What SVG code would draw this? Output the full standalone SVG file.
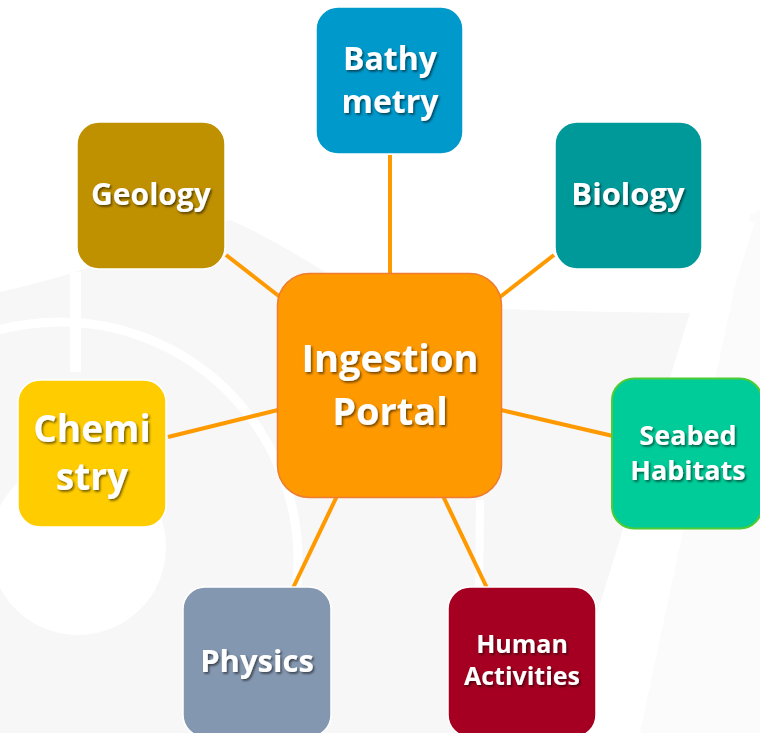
<svg xmlns="http://www.w3.org/2000/svg" width="760" height="733" viewBox="0 0 760 733">
<defs>
<filter id="ts" x="-10%" y="-30%" width="130%" height="170%">
<feDropShadow dx="1.5" dy="1.8" stdDeviation="0.9" flood-color="#000" flood-opacity="0.55"/>
</filter>
<style>
.bg{fill:#f7f7f7}
.wm{fill:none;stroke:#ffffff}
.conn{stroke:#ff9900;stroke-width:4;fill:none}
.box{stroke:#ffffff;stroke-width:1.5}
.lbl{font-family:"Open Sans","Noto Sans",sans-serif;font-weight:700;fill:#ffffff;text-anchor:middle;filter:url(#ts)}
</style>
</defs>
<rect width="760" height="733" fill="#ffffff"/>
<g id="watermark">
<path class="bg" d="M0,292 C100,270 170,235 230,220 C300,250 340,290 400,305 Q560,312 690,313 L560,733 L0,733 Z"/>
<path fill="#fbfbfb" d="M750,215 L760,210 L760,733 L640,733 Z"/>
<circle cx="78" cy="547" r="88" fill="#ffffff"/>
<circle class="wm" cx="60" cy="560" r="238" stroke-width="9"/>
<rect x="70" y="272" width="11" height="100" fill="#ffffff"/>
<path class="wm" d="M745,220 L585,733" stroke-width="20"/>
<path class="wm" d="M480,500 L478,733" stroke-width="8"/>
</g>
<g id="connectors">
<line class="conn" x1="390" y1="155" x2="390" y2="274"/>
<line class="conn" x1="226" y1="255" x2="280" y2="297"/>
<line class="conn" x1="554" y1="255" x2="500" y2="297"/>
<line class="conn" x1="168" y1="437" x2="278" y2="410"/>
<line class="conn" x1="501" y1="410" x2="613" y2="436"/>
<line class="conn" x1="293" y1="588" x2="337" y2="496"/>
<line class="conn" x1="487" y1="588" x2="443" y2="496"/>
</g>
<g id="bathymetry">
<rect class="box" x="316" y="7" width="147" height="147" rx="22" fill="#0099cc"/>
<text class="lbl" x="390" y="70" font-size="32">Bathy</text>
<text class="lbl" x="390" y="113" font-size="32">metry</text>
</g>
<g id="geology">
<rect class="box" x="77" y="122" width="148" height="147" rx="22" fill="#bf9000"/>
<text class="lbl" x="151" y="205" font-size="30">Geology</text>
</g>
<g id="biology">
<rect class="box" x="555" y="122" width="147" height="147" rx="22" fill="#009999"/>
<text class="lbl" x="628" y="205" font-size="31">Biology</text>
</g>
<g id="ingestion-portal">
<rect x="277.5" y="273.5" width="224" height="224" rx="32" fill="#ff9900" stroke="#ed7d31" stroke-width="1.5"/>
<text class="lbl" x="390" y="372" font-size="38">Ingestion</text>
<text class="lbl" x="390" y="425" font-size="38">Portal</text>
</g>
<g id="chemistry">
<rect class="box" x="18" y="380" width="148" height="147" rx="22" fill="#ffcc00"/>
<text class="lbl" x="92" y="442" font-size="37">Chemi</text>
<text class="lbl" x="92" y="490" font-size="37">stry</text>
</g>
<g id="seabed-habitats">
<rect x="612" y="378.5" width="150" height="150" rx="22" fill="#00cc99" stroke="#4dcc33" stroke-width="2"/>
<text class="lbl" x="688" y="445" font-size="27">Seabed</text>
<text class="lbl" x="688" y="480" font-size="27">Habitats</text>
</g>
<g id="physics">
<rect class="box" x="183" y="587" width="148" height="150" rx="22" fill="#8497b0"/>
<text class="lbl" x="257" y="672" font-size="31">Physics</text>
</g>
<g id="human-activities">
<rect class="box" x="448" y="587" width="148" height="150" rx="22" fill="#a50021"/>
<text class="lbl" x="522" y="653" font-size="25">Human</text>
<text class="lbl" x="522" y="685" font-size="25">Activities</text>
</g>
</svg>
